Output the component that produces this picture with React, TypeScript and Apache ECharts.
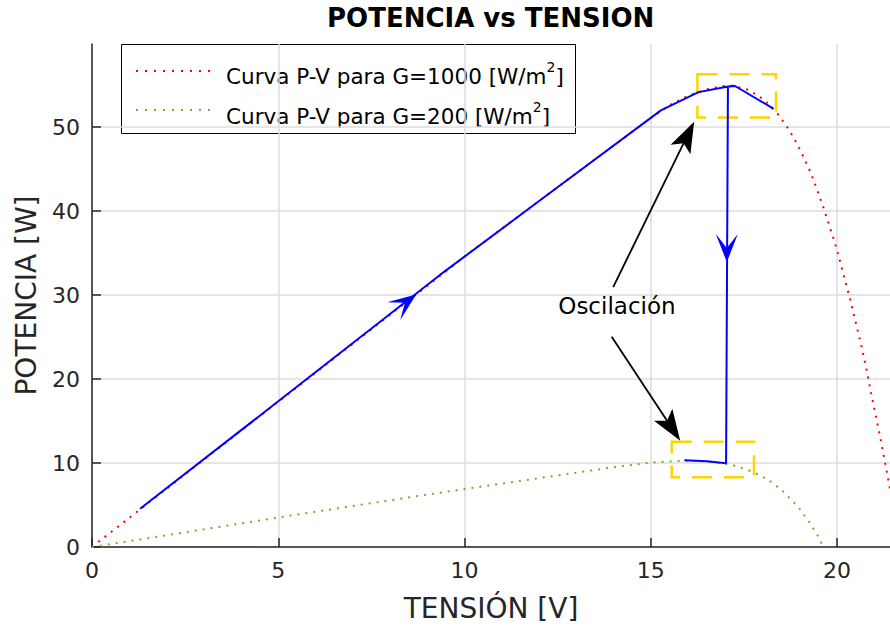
import React, { useEffect, useRef } from 'react';
import * as echarts from 'echarts';

// ---- data ----
const redV = [0, 1, 2, 3, 4, 5, 6, 7, 8, 9, 10, 11, 12, 13, 14, 15, 15.5, 16, 16.5, 16.9, 17.2, 17.6, 17.9, 18.1, 18.4, 18.65, 18.85, 19.05, 19.25, 19.4, 19.62, 19.82, 20.01, 20.17, 20.34, 20.49, 20.64, 20.78, 20.9, 21.03, 21.16, 21.28, 21.4, 21.5];
const redP = [0, 3.47, 6.93, 10.4, 13.85, 17.3, 20.75, 24.2, 27.65, 31.1, 34.6, 37.9, 41.2, 44.5, 47.8, 51.1, 52.6, 53.75, 54.5, 54.88, 54.95, 54.45, 53.7, 53.0, 51.6, 50.1, 48.6, 46.9, 45.0, 43.3, 40.6, 37.9, 35.2, 32.45, 29.7, 26.9, 24.2, 21.35, 18.6, 15.8, 13.0, 10.2, 7.4, 5.1];

const greenV = [0, 1, 2, 3, 4, 5, 6, 7, 8, 9, 10, 11, 12, 13, 14, 15, 15.7, 16.2, 16.7, 17.2, 17.4, 17.6, 17.8, 18.0, 18.2, 18.36, 18.53, 18.68, 18.83, 18.98, 19.1, 19.23, 19.34, 19.46, 19.56, 19.62];
const greenP = [0, 0.7, 1.4, 2.1, 2.8, 3.5, 4.2, 4.88, 5.56, 6.24, 6.9, 7.55, 8.2, 8.85, 9.5, 10.05, 10.24, 10.28, 10.1, 9.75, 9.46, 9.18, 8.82, 8.35, 7.85, 7.3, 6.7, 6.03, 5.36, 4.64, 3.89, 3.13, 2.35, 1.51, 0.68, 0];

// MPPT trajectory (blue)
const blueV = [1.29, 5, 9.34, 12, 15.27, 16.28, 17.04, 17.26, 18.29, 17.26, 17.07, 17.02, 16.5, 15.9];
const blueP = [4.55, 17.35, 32.4, 41.2, 52.0, 54.17, 54.8, 54.9, 52.2, 54.9, 54.85, 9.96, 10.2, 10.32];

const xTicks = [0, 5, 10, 15, 20];
const yTicks = [0, 10, 20, 30, 40, 50];

const seriesNames = ['Curva P-V para G=1000 [W/m2]', 'Curva P-V para G=200 [W/m2]', 'MPPT'];
const legendLabels = ['{a|Curva P-V para G=1000 [W/m}{s|2}{a|]}', '{a|Curva P-V para G=200 [W/m}{s|2}{a|]}'];

// annotations (data coordinates)
const boxes = [
  [[16.25, 56.3], [18.36, 51.15]],
  [[15.56, 12.54], [17.77, 8.3]],
];
const blackArrows = [
  [[13.99, 30.95], [15.98, 48.99]],
  [[13.95, 25.04], [15.56, 14.2]],
];
const blueArrows = [
  { at: [8.4, 29.08], rotate: -53.5 },
  { at: [17.04, 35.6], rotate: 180 },
];
const noteText = 'Oscilación';
const noteAt = [14.09, 28.7];

const FONT = '"DejaVu Sans", "Liberation Sans", Arial, sans-serif';
const zip = (a: number[], b: number[]) => a.map((v, i) => [v, b[i]]);

export default function App() {
  const ref = useRef<HTMLDivElement>(null);
  useEffect(() => {
    if (!ref.current) return;
    const chart = echarts.init(ref.current, null, { renderer: 'svg' });
    const richA = { fontSize: 21.5, fontFamily: FONT, color: '#000', lineHeight: 32 };
    const richS = { fontSize: 14, fontFamily: FONT, color: '#000', verticalAlign: 'top', lineHeight: 32 };
    chart.setOption({
      animation: false,
      backgroundColor: '#fff',
      title: {
        text: 'POTENCIA vs TENSION',
        left: 327,
        top: 5,
        padding: 0,
        textStyle: { fontSize: 26, fontWeight: 'bold', color: '#000', fontFamily: FONT },
      },
      grid: { left: 92, right: 0, top: 44, bottom: 86, outerBoundsMode: 'none' },
      xAxis: {
        type: 'value', min: 0, max: 21.42, interval: 5,
        name: 'TENSIÓN [V]', nameLocation: 'middle', nameGap: 47, nameMoveOverlap: false,
        nameTextStyle: { fontSize: 28, color: '#262626', fontFamily: FONT },
        axisLine: { show: true, onZero: false, lineStyle: { color: '#262626', width: 1.5 } },
        axisTick: { show: true, inside: true, length: 9, customValues: xTicks, lineStyle: { color: '#262626', width: 1.5 } },
        axisLabel: { fontSize: 22, color: '#262626', margin: 12, fontFamily: FONT, customValues: xTicks },
        splitLine: { show: true, lineStyle: { color: '#dcdcdc', width: 1.5 } },
      },
      yAxis: {
        type: 'value', min: 0, max: 59.9, interval: 10,
        name: 'POTENCIA [W]', nameLocation: 'middle', nameGap: 52, nameRotate: 90, nameMoveOverlap: false,
        nameTextStyle: { fontSize: 28, color: '#262626', fontFamily: FONT },
        axisLine: { show: true, onZero: false, lineStyle: { color: '#262626', width: 1.5 } },
        axisTick: { show: true, inside: true, length: 9, customValues: yTicks, lineStyle: { color: '#262626', width: 1.5 } },
        axisLabel: { fontSize: 22, color: '#262626', margin: 12, fontFamily: FONT, customValues: yTicks },
        splitLine: { show: true, lineStyle: { color: '#dcdcdc', width: 1.5 } },
      },
      series: [
        {
          name: seriesNames[0], type: 'line', data: zip(redV, redP), showSymbol: false, z: 2,
          lineStyle: { color: '#FF0000', width: 2, type: [2, 6] }, itemStyle: { color: '#FF0000' },
          markLine: {
            silent: true, symbol: ['none', 'path://M11,0 L22,31 L11,24 L0,31 Z'], symbolSize: [22, 31],
            label: { show: false },
            lineStyle: { color: '#000', width: 1.8, type: 'solid' },
            itemStyle: { color: '#000' },
            data: blackArrows.map(([a, b]) => [{ coord: a }, { coord: b }]),
          },
        },
        {
          name: seriesNames[1], type: 'line', data: zip(greenV, greenP), showSymbol: false, z: 2,
          lineStyle: { color: '#77AC30', width: 2, type: [2, 6] }, itemStyle: { color: '#77AC30' },
          markArea: {
            silent: true,
            itemStyle: { color: 'rgba(0,0,0,0)', borderColor: '#FFD400', borderWidth: 2.5, borderType: [20, 12] },
            data: boxes.map(([a, b]) => [{ coord: a }, { coord: b }]),
          },
          markPoint: {
            silent: true, symbol: 'circle', symbolSize: 1, itemStyle: { color: 'rgba(0,0,0,0)' },
            label: { show: true, position: 'inside', formatter: noteText, fontSize: 23, color: '#000', fontFamily: FONT },
            data: [{ coord: noteAt }],
          },
        },
        {
          name: seriesNames[2], type: 'line', data: zip(blueV, blueP), showSymbol: false, z: 3,
          lineStyle: { color: '#0000FF', width: 2 }, itemStyle: { color: '#0000FF' },
          markPoint: {
            silent: true, symbol: 'path://M11,0 L22,28 L11,14 L0,28 Z', symbolSize: [22, 28],
            itemStyle: { color: '#0000FF' }, label: { show: false },
            data: blueArrows.map((a) => ({ coord: a.at, symbolRotate: a.rotate })),
          },
        },
      ],
      graphic: [
        {
          type: 'group', x: 121, y: 44, z: 100,
          children: [
            { type: 'rect', shape: { x: 0.5, y: 0.5, width: 454, height: 89 }, style: { fill: '#fff', stroke: '#000', lineWidth: 1 } },
            { type: 'line', shape: { x1: 15, y1: 27, x2: 92, y2: 27 }, style: { stroke: '#FF0000', lineWidth: 2, lineDash: [2, 7] } },
            { type: 'line', shape: { x1: 15, y1: 66, x2: 92, y2: 66 }, style: { stroke: '#77AC30', lineWidth: 2, lineDash: [2, 7] } },
            { type: 'text', x: 105, y: 32, style: { text: legendLabels[0], rich: { a: richA, s: richS }, verticalAlign: 'middle', align: 'left' } },
            { type: 'text', x: 105, y: 72, style: { text: legendLabels[1], rich: { a: richA, s: richS }, verticalAlign: 'middle', align: 'left' } },
          ],
        },
      ],
    });
    return () => chart.dispose();
  }, []);
  return <div ref={ref} style={{ position: 'absolute', left: 0, top: 0, width: 890, height: 633 }} />;
}
